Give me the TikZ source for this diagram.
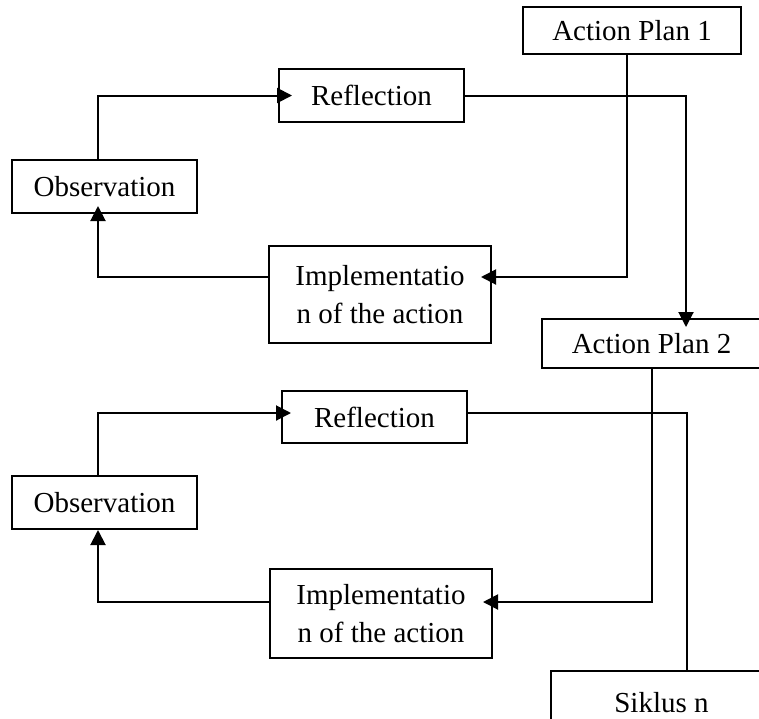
\documentclass[tikz,border=0pt]{standalone}
\usepackage{fontspec}
\setmainfont{Liberation Serif}
\usetikzlibrary{arrows.meta}
\begin{document}
\begin{tikzpicture}[x=0.5pt,y=-0.5pt,
  box/.style={draw,line width=1pt,inner sep=0pt,font=\fontsize{14.5}{19}\selectfont,align=center},
  arr/.style={line width=1pt,-{Triangle[length=7.5pt,width=7.5pt]}},
  ln/.style={line width=1pt}]
\useasboundingbox (0,0) rectangle (759,718);
\clip (0,0) rectangle (759,718);
% columns and rows of the connectors
\coordinate (c1) at (98,0);
\coordinate (c2) at (627,0);
\coordinate (c3) at (686,0);
\coordinate (c4) at (687,0);
\coordinate (r1) at (0,277);
\coordinate (r2) at (0,413);
\coordinate (r3) at (0,602);
% cycle 1
\node[box,minimum width=109pt,minimum height=23.5pt] (ap1) at (632,30.5) {Action Plan 1};
\node[box,minimum width=92.5pt,minimum height=26.5pt] (ref1) at (371.5,95.5) {Reflection};
\node[box,minimum width=92.5pt,minimum height=26.5pt] (obs1) at (104.5,186.5) {Observation};
\node[box,minimum width=111pt,minimum height=48.5pt] (imp1) at (380,294.5) {Implementatio\\n of the action};
% cycle 2
\node[box,minimum width=109.5pt,minimum height=24.5pt] (ap2) at (651.5,343.5) {Action Plan 2};
\node[box,minimum width=92.5pt,minimum height=26pt] (ref2) at (374.5,417) {Reflection};
\node[box,minimum width=92.5pt,minimum height=26.5pt] (obs2) at (104.5,502.5) {Observation};
\node[box,minimum width=111pt,minimum height=44.5pt] (imp2) at (381,613.5) {Implementatio\\n of the action};
\node[box,minimum width=110.5pt,minimum height=32pt] (sik) at (661.5,703) {Siklus n};
% connectors, cycle 1
\draw[arr,shorten >=-7pt] (obs1.north -| c1) |- (ref1.west);
\draw[arr,shorten >=-4pt] (imp1.west |- r1) -| (obs1.south -| c1);
\draw[arr,shorten >=-5.5pt] (ap1.south -| c2) |- (imp1.east |- r1);
\draw[arr,shorten >=-4.5pt] (ref1.east) -| (ap2.north -| c3);
% connectors, cycle 2
\draw[arr,shorten >=-5pt] (obs2.north -| c1) |- (ref2.west |- r2);
\draw[arr] (imp2.west |- r3) -| (obs2.south -| c1);
\draw[arr,shorten >=-5pt] (ap2.south) |- (imp2.east |- r3);
\draw[ln] (ref2.east |- r2) -| (sik.north -| c4);
\end{tikzpicture}
\end{document}
